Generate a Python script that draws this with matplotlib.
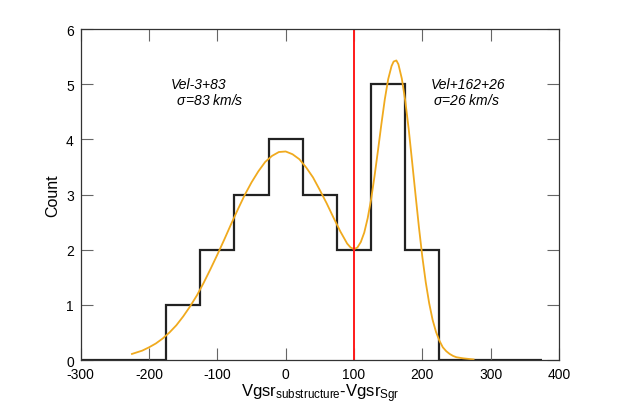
import numpy as np
import matplotlib
matplotlib.use("Agg")
import matplotlib.pyplot as plt

# histogram of velocity differences (bin edges and counts)
bin_edges = [-300, -250, -200, -175, -125, -75, -25, 25, 75, 125, 175, 225, 275, 325, 375]
counts = [0, 0, 0, 1, 2, 3, 4, 3, 2, 5, 2, 0, 0, 0]

# two-gaussian fit curve
fit_x = [-225, -210, -200, -190, -180, -170, -160, -150, -140, -130, -120, -110,
         -100, -90, -80, -70, -60, -50, -40, -30, -20, -10, 0, 10, 20, 30, 40,
         50, 60, 70, 80, 90, 95, 100, 105, 110, 115, 120, 125, 130, 135, 140,
         145, 150, 155, 158, 162, 165, 170, 175, 180, 185, 190, 195, 200, 205,
         210, 215, 220, 225, 230, 235, 240, 245, 250, 260, 275]
fit_y = [0.11, 0.17, 0.23, 0.30, 0.39, 0.50, 0.63, 0.79, 0.97, 1.17, 1.40, 1.65,
         1.91, 2.18, 2.46, 2.73, 2.99, 3.22, 3.42, 3.59, 3.70, 3.77, 3.78, 3.73,
         3.64, 3.49, 3.31, 3.08, 2.84, 2.58, 2.33, 2.11, 2.04, 2.01, 2.04, 2.14,
         2.31, 2.57, 2.91, 3.33, 3.79, 4.27, 4.72, 5.09, 5.33, 5.41, 5.43, 5.36,
         5.10, 4.70, 4.19, 3.60, 3.00, 2.41, 1.87, 1.41, 1.03, 0.73, 0.51, 0.35,
         0.23, 0.16, 0.11, 0.074, 0.05, 0.03, 0.01]

sgr_cut = 100

plt.rcParams['font.family'] = ['Liberation Sans', 'DejaVu Sans']
plt.rcParams['mathtext.fontset'] = 'custom'
plt.rcParams['mathtext.rm'] = 'Liberation Sans'
plt.rcParams['mathtext.it'] = 'Liberation Sans:italic'
plt.rcParams['axes.unicode_minus'] = False

fig = plt.figure(figsize=(6.18, 4.06), dpi=100)
ax = fig.add_axes([0.1306, 0.1108, 0.7739, 0.8153])

ax.stairs(counts, bin_edges, color='#222222', lw=1.6, baseline=None)
ax.plot(fit_x, fit_y, color='#f0aa1e', lw=1.3)
ax.axvline(sgr_cut, color='#ff1a1a', lw=1.4)

ax.set_xlim(-300, 400)
ax.set_ylim(0, 6)
ax.set_xticks(np.arange(-300, 401, 100))
ax.set_yticks(np.arange(0, 7, 1))
ax.tick_params(direction='in', length=8.5, width=0.8, color='#666666',
               top=True, right=True, labelsize=10)
ax.tick_params(axis='y', pad=5)
ax.tick_params(axis='x', pad=5)
for s in ax.spines.values():
    s.set_color('#333333')
    s.set_linewidth(0.9)

ax.set_ylabel('Count', fontsize=11.5)
ax.set_xlabel(r'Vgsr$_{\mathregular{substructure}}$-Vgsr$_{\mathregular{Sgr}}$',
              fontsize=12, labelpad=0)

ax.text(-168, 5.0, 'Vel-3+83', style='italic', fontsize=10, va='center')
ax.text(-165, 4.73, r' $\sigma$=83 km/s', style='italic', fontsize=10, va='center')
ax.text(213, 5.0, 'Vel+162+26', style='italic', fontsize=10, va='center')
ax.text(216, 4.73, r'$\sigma$=26 km/s', style='italic', fontsize=10, va='center')

fig.savefig('out.png', dpi=100)
